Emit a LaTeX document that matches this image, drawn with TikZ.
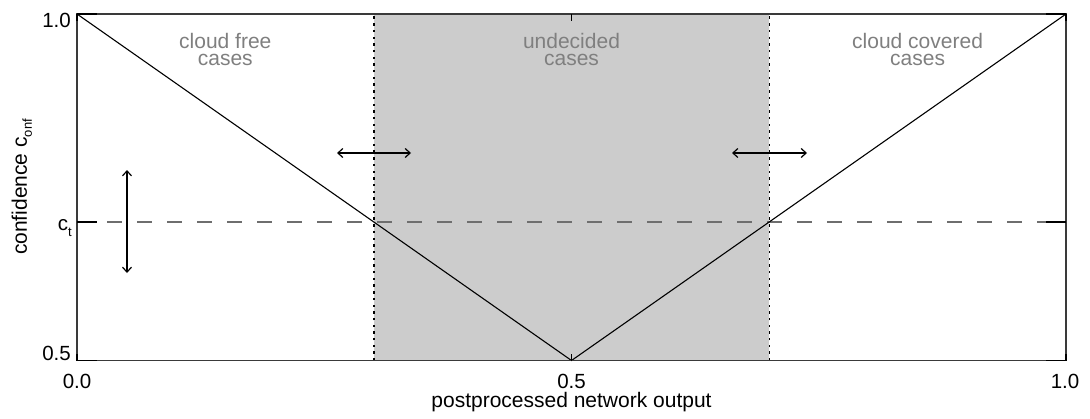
\documentclass[tikz,border=0pt]{standalone}
\usepackage{fontspec}
\setmainfont{Liberation Sans}
\usetikzlibrary{arrows.meta}
\definecolor{bandgray}{HTML}{CCCCCC}
\definecolor{labelgray}{HTML}{7F7F7F}
\definecolor{dashgray}{HTML}{6E6E6E}
\definecolor{axisgray}{HTML}{3A3A3A}
\begin{document}
\begin{tikzpicture}[x=1pt,y=-1pt,
  axisline/.style={line width=1.3pt, draw=axisgray},
  tickmark/.style={line width=1.6pt, black},
  curve/.style={line width=1.1pt, black},
  bound/.style={line width=1.6pt, black, dash pattern=on 2.4pt off 4.3pt},
  thresh/.style={line width=1.8pt, dashgray, dash pattern=on 15pt off 15pt},
  shiftarrow/.style={line width=1.2pt, {Straight Barb[length=5pt,width=9pt]}-{Straight Barb[length=5pt,width=9pt]}},
  ticklabel/.style={inner sep=0pt, font=\fontsize{20.5}{24}\selectfont},
  regionlabel/.style={inner sep=0pt, align=center, text=labelgray, font=\fontsize{21}{16.5}\selectfont},
  axislabel/.style={inner sep=0pt, font=\fontsize{21}{24}\selectfont}]

\useasboundingbox (0,0) rectangle (1090,418);

% frame corners, apex of the V and the threshold crossings
\coordinate (ll) at (77,360.5);
\coordinate (ul) at (77,14);
\coordinate (ur) at (1066,14);
\coordinate (lr) at (1066,360.5);
\coordinate (vtx) at (571.5,360.5);
\coordinate (lbot) at (373.7,360.5);
\coordinate (ltop) at (373.7,14);
\coordinate (rbot) at (769.3,360.5);
\coordinate (rtop) at (769.3,14);
\coordinate (thl) at (77,221.7);
\coordinate (thr) at (1066,221.7);

% undecided band
\fill[bandgray] (lbot) rectangle (rtop);

% threshold c_t
\draw[thresh] (thl) -- (thr);

% band boundaries
\draw[bound] (lbot) -- (ltop);
\draw[bound] (rbot) -- (rtop);

% confidence curve
\draw[curve] (ul) -- (vtx) -- (ur);

% frame and ticks (short on the x axis, long on the y axis)
\draw[axisline] (ll) rectangle (ur);
\foreach \x in {77,571.5,1066} {
  \draw[tickmark] (\x,360.5) -- ++(0,-7);
  \draw[tickmark] (\x,14) -- ++(0,7);
}
\foreach \y in {360.5,221.7,14} {
  \draw[tickmark] (77,\y) -- ++(19.8,0);
  \draw[tickmark] (1066,\y) -- ++(-19.8,0);
}

% shift arrows
\coordinate (la1) at (337,153);
\coordinate (la2) at (411,153);
\coordinate (ra1) at (732,153);
\coordinate (ra2) at (807,153);
\coordinate (va1) at (127,170);
\coordinate (va2) at (127,273);
\draw[shiftarrow] (la1) -- (la2);
\draw[shiftarrow] (ra1) -- (ra2);
\draw[shiftarrow] (va1) -- (va2);

% tick labels
\node[ticklabel, anchor=north east] (y10) at (71,13) {1.0};
\node[ticklabel, anchor=base east] (y05) at (71,360.5) {0.5};
\node[ticklabel, anchor=base east] (yct) at (72,230) {c\raisebox{-6pt}{\fontsize{13}{13}\selectfont t}};
\node[ticklabel, anchor=base] (x00) at (77,388) {0.0};
\node[ticklabel, anchor=base] (x05) at (571.5,388) {0.5};
\node[ticklabel, anchor=base] (x10) at (1065,388) {1.0};

% axis titles
\node[axislabel, anchor=base] (xlab) at (571.5,407.5) {postprocessed network output};
\node[axislabel, rotate=90, anchor=base] (ylab) at (27,187) {confidence c\raisebox{-5pt}{\fontsize{13}{13}\selectfont onf}};

% region labels
\node[regionlabel, anchor=north] (free) at (225.3,33.5) {cloud free\\cases};
\node[regionlabel, anchor=north] (undec) at (571.5,33.5) {undecided\\cases};
\node[regionlabel, anchor=north] (cov) at (917.6,33.5) {cloud covered\\cases};
\end{tikzpicture}
\end{document}
